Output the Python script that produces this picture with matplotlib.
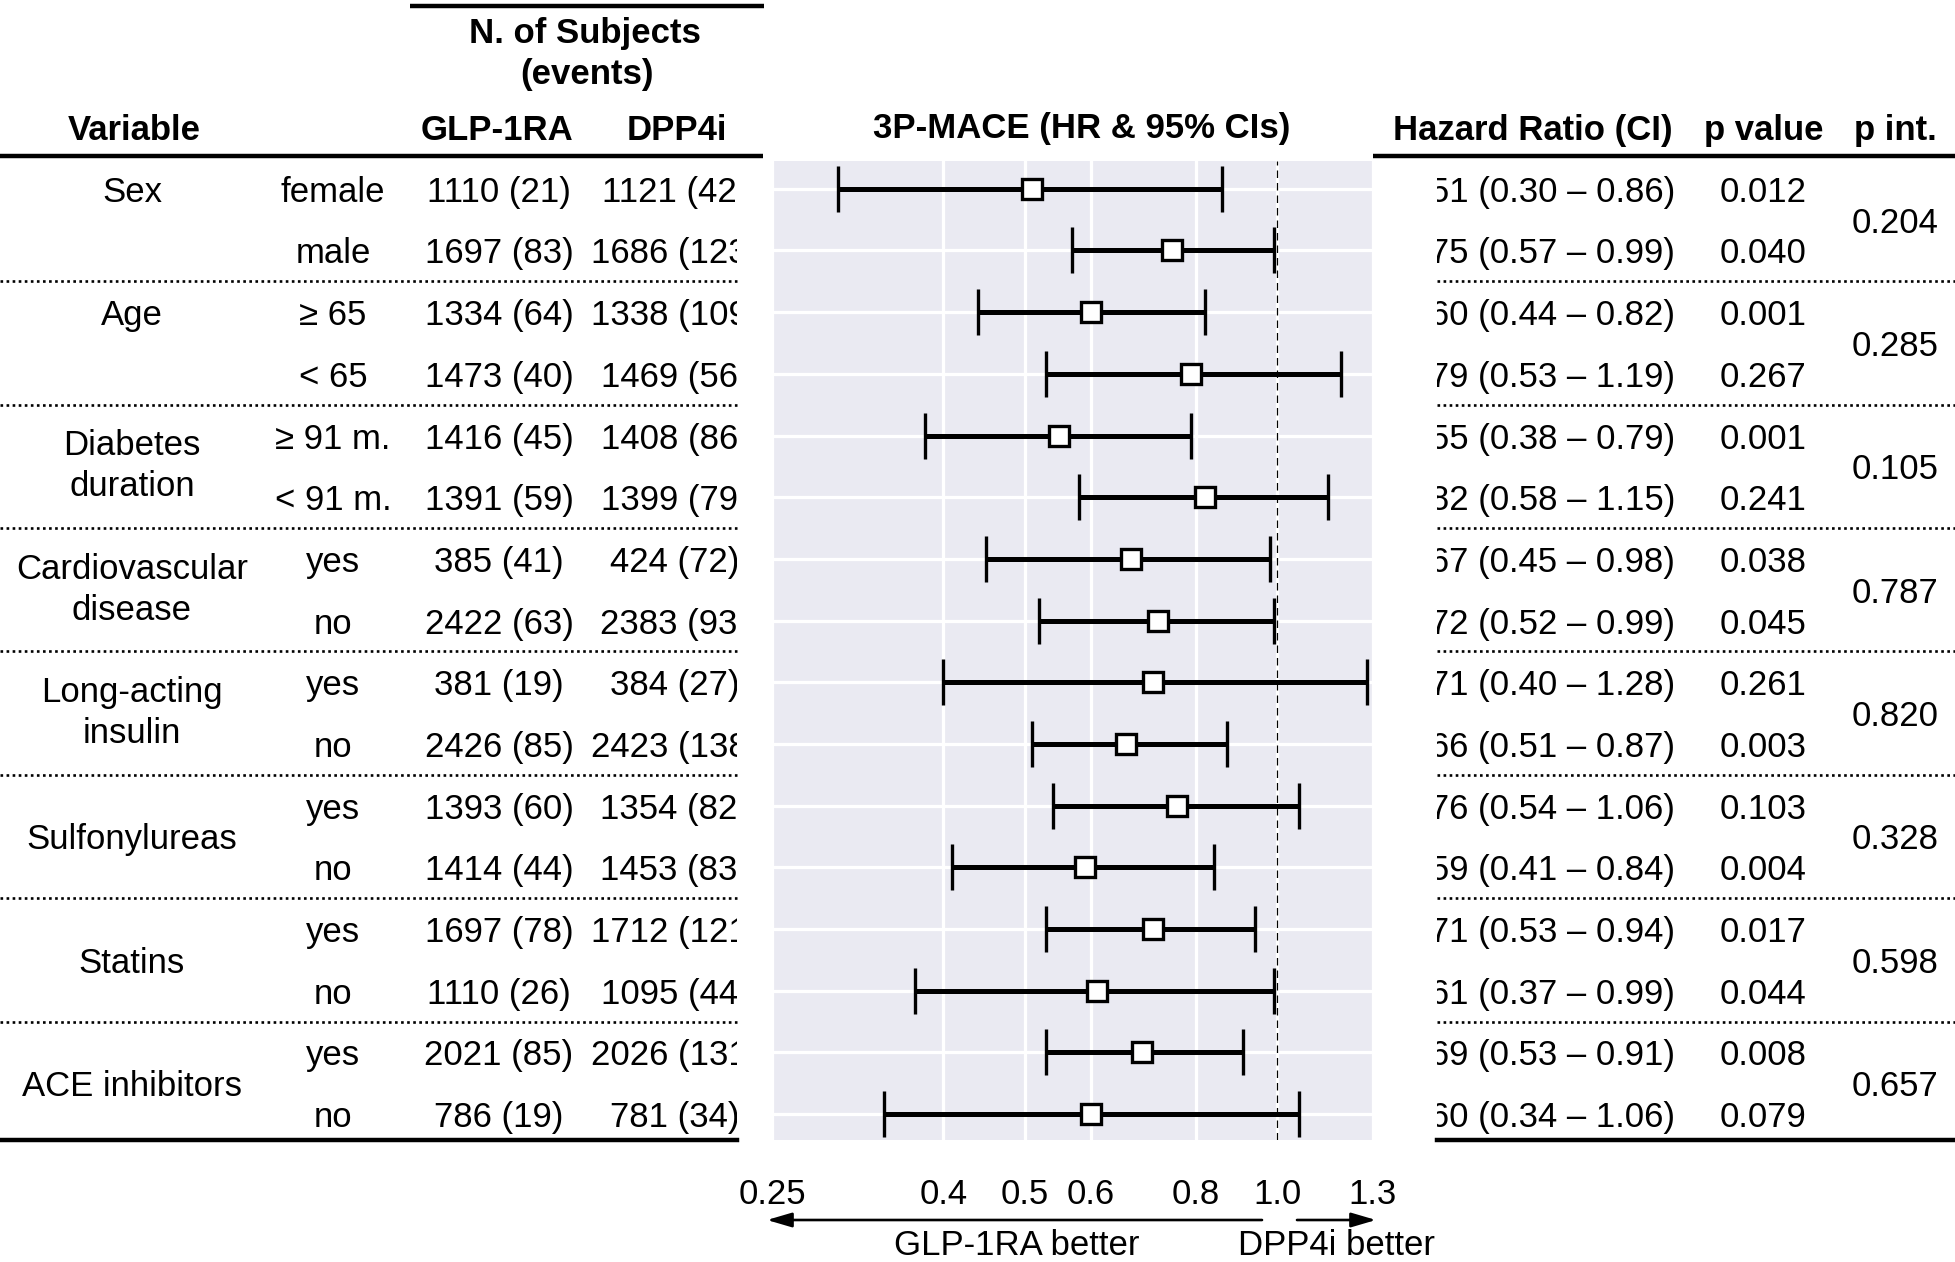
import matplotlib
matplotlib.use('Agg')
import matplotlib.pyplot as plt
from matplotlib.ticker import NullLocator, FixedLocator

plt.rcParams['font.family'] = ['Liberation Sans', 'DejaVu Sans']

# ---------------- data ----------------
variables = ['Sex', 'Age', 'Diabetes\nduration', 'Cardiovascular\ndisease',
             'Long-acting\ninsulin', 'Sulfonylureas', 'Statins', 'ACE inhibitors']
subgroups = ['female', 'male', '≥ 65', '< 65', '≥ 91 m.', '< 91 m.',
             'yes', 'no', 'yes', 'no', 'yes', 'no', 'yes', 'no', 'yes', 'no']
glp_n = [1110, 1697, 1334, 1473, 1416, 1391, 385, 2422, 381, 2426, 1393, 1414, 1697, 1110, 2021, 786]
glp_ev = [21, 83, 64, 40, 45, 59, 41, 63, 19, 85, 60, 44, 78, 26, 85, 19]
dpp_n = [1121, 1686, 1338, 1469, 1408, 1399, 424, 2383, 384, 2423, 1354, 1453, 1712, 1095, 2026, 781]
dpp_ev = [42, 123, 109, 56, 86, 79, 72, 93, 27, 138, 82, 83, 121, 44, 131, 34]
hr = [0.51, 0.75, 0.60, 0.79, 0.55, 0.82, 0.67, 0.72, 0.71, 0.66, 0.76, 0.59, 0.71, 0.61, 0.69, 0.60]
ci_lo = [0.30, 0.57, 0.44, 0.53, 0.38, 0.58, 0.45, 0.52, 0.40, 0.51, 0.54, 0.41, 0.53, 0.37, 0.53, 0.34]
ci_hi = [0.86, 0.99, 0.82, 1.19, 0.79, 1.15, 0.98, 0.99, 1.28, 0.87, 1.06, 0.84, 0.94, 0.99, 0.91, 1.06]
p_val = ['0.012', '0.040', '0.001', '0.267', '0.001', '0.241', '0.038', '0.045',
         '0.261', '0.003', '0.103', '0.004', '0.017', '0.044', '0.008', '0.079']
p_int = ['0.204', '0.285', '0.105', '0.787', '0.820', '0.328', '0.598', '0.657']
x_ticks = [0.25, 0.4, 0.5, 0.6, 0.8, 1.0, 1.3]
x_tick_labels = ['0.25', '0.4', '0.5', '0.6', '0.8', '1.0', '1.3']

# label placement within each 2-row group (0 = first row, 0.5 = middle)
var_label_offset = [0, 0, 0.5, 0.5, 0.5, 0.5, 0.5, 0.5]

# ---------------- layout ----------------
W, H = 1956, 1262
FS = 25
fig = plt.figure(figsize=(W / 100, H / 100), dpi=100)
fig.patch.set_facecolor('white')


def px_axes(x0, y0, x1, y1, **kw):
    return fig.add_axes([x0 / W, 1 - y1 / H, (x1 - x0) / W, (y1 - y0) / H], **kw)


n = len(hr)
rows = list(range(n))
YLIM = (n - 1 + 0.42, -0.45)

# overlay (pixel coordinates)
ax_o = px_axes(0, 0, W, H)
ax_o.set_xlim(0, W)
ax_o.set_ylim(H, 0)
ax_o.axis('off')
ax_o.set_zorder(0)

# forest plot axes
ax = px_axes(772, 161, 1373, 1140)
ax.set_zorder(2)
ax.set_facecolor('#EAEAF2')
for s in ax.spines.values():
    s.set_visible(False)
ax.set_xscale('log')
ax.set_xlim(0.25, 1.3)
ax.set_ylim(*YLIM)
ax.xaxis.set_major_locator(FixedLocator(x_ticks))
ax.xaxis.set_minor_locator(NullLocator())
ax.set_xticklabels(x_tick_labels, fontsize=FS)
ax.set_yticks(rows)
ax.set_yticklabels([])
ax.tick_params(axis='both', length=0, pad=27)
ax.grid(True, color='white', lw=2.3)
ax.set_axisbelow(True)
ax.axvline(1.0, color='black', ls=(0, (6, 4)), lw=0.9, zorder=2)
xerr = [[h - l for h, l in zip(hr, ci_lo)], [u - h for h, u in zip(hr, ci_hi)]]
ax.errorbar(hr, rows, xerr=xerr, fmt='s', color='black', ecolor='black',
            elinewidth=3.6, capsize=16.5, capthick=2.8,
            markersize=15, markerfacecolor='white', markeredgecolor='black',
            markeredgewidth=2.4, zorder=3)

# left table
ax_l = px_axes(0, 161, 737, 1140)
ax_l.set_xlim(0, 737)
ax_l.set_ylim(*YLIM)
ax_l.axis('off')
ax_l.set_zorder(1)
for i in rows:
    ax_l.text(333, i, subgroups[i], ha='center', va='center_baseline', fontsize=FS, clip_on=True)
    ax_l.text(499, i, f'{glp_n[i]} ({glp_ev[i]})', ha='center', va='center_baseline', fontsize=FS, clip_on=True)
    ax_l.text(675, i, f'{dpp_n[i]} ({dpp_ev[i]})', ha='center', va='center_baseline', fontsize=FS, clip_on=True)
for g, name in enumerate(variables):
    y = 2 * g + var_label_offset[g]
    ax_l.text(132, y, name, ha='center', va='center' if '\n' in name else 'center_baseline',
              fontsize=FS, linespacing=1.3, clip_on=True)

# right table
ax_r = px_axes(1437, 161, W, 1140)
ax_r.set_xlim(1437, W)
ax_r.set_ylim(*YLIM)
ax_r.axis('off')
ax_r.set_zorder(1)
for i in rows:
    ax_r.text(1538, i, f'{hr[i]:.2f} ({ci_lo[i]:.2f} – {ci_hi[i]:.2f})', ha='center',
              va='center_baseline', fontsize=FS, clip_on=True)
    ax_r.text(1763, i, p_val[i], ha='center', va='center_baseline', fontsize=FS, clip_on=True)
for g, p in enumerate(p_int):
    ax_r.text(1895, 2 * g + 0.5, p, ha='center', va='center_baseline', fontsize=FS, clip_on=True)

# group separators and bottom rules
for tax in (ax_l, ax_r):
    for g in range(1, len(variables)):
        tax.axhline(2 * g - 0.5, color='black', lw=1.9, ls=(0, (1, 1.3)), clip_on=False)
    tax.axhline(YLIM[0], color='black', lw=3.2, clip_on=False)

# header rules
ax_o.plot([410, 764], [6, 6], color='black', lw=3.2, solid_capstyle='butt')
ax_o.plot([0, 763], [156, 156], color='black', lw=3.2, solid_capstyle='butt')
ax_o.plot([1373, W], [156, 156], color='black', lw=3.2, solid_capstyle='butt')

# headers
hdr = dict(fontsize=FS, fontweight='bold', ha='center', va='center_baseline')
ax_o.text(585, 30, 'N. of Subjects', **hdr)
ax_o.text(587, 71, '(events)', **hdr)
ax_o.text(134, 127, 'Variable', **hdr)
ax_o.text(497, 127, 'GLP-1RA', **hdr)
ax_o.text(677, 127, 'DPP4i', **hdr)
ax_o.text(1082, 125, '3P-MACE (HR & 95% CIs)', **hdr)
ax_o.text(1533, 127, 'Hazard Ratio (CI)', **hdr)
ax_o.text(1764, 127, 'p value', **hdr)
ax_o.text(1895, 127, 'p int.', **hdr)

# direction arrows
arrow_kw = dict(arrowstyle='-|>,head_length=0.75,head_width=0.22', lw=1.9,
                color='black', mutation_scale=20, shrinkA=0, shrinkB=0)
ax_o.annotate('', xy=(767, 1220), xytext=(1262, 1220), arrowprops=arrow_kw)
ax_o.annotate('', xy=(1376, 1220), xytext=(1297, 1220), arrowprops=arrow_kw)
ax_o.text(1017, 1242, 'GLP-1RA better', ha='center', va='center_baseline', fontsize=FS)
ax_o.text(1336, 1242, 'DPP4i better', ha='center', va='center_baseline', fontsize=FS)

fig.savefig('out.png', dpi=100, facecolor='white')
